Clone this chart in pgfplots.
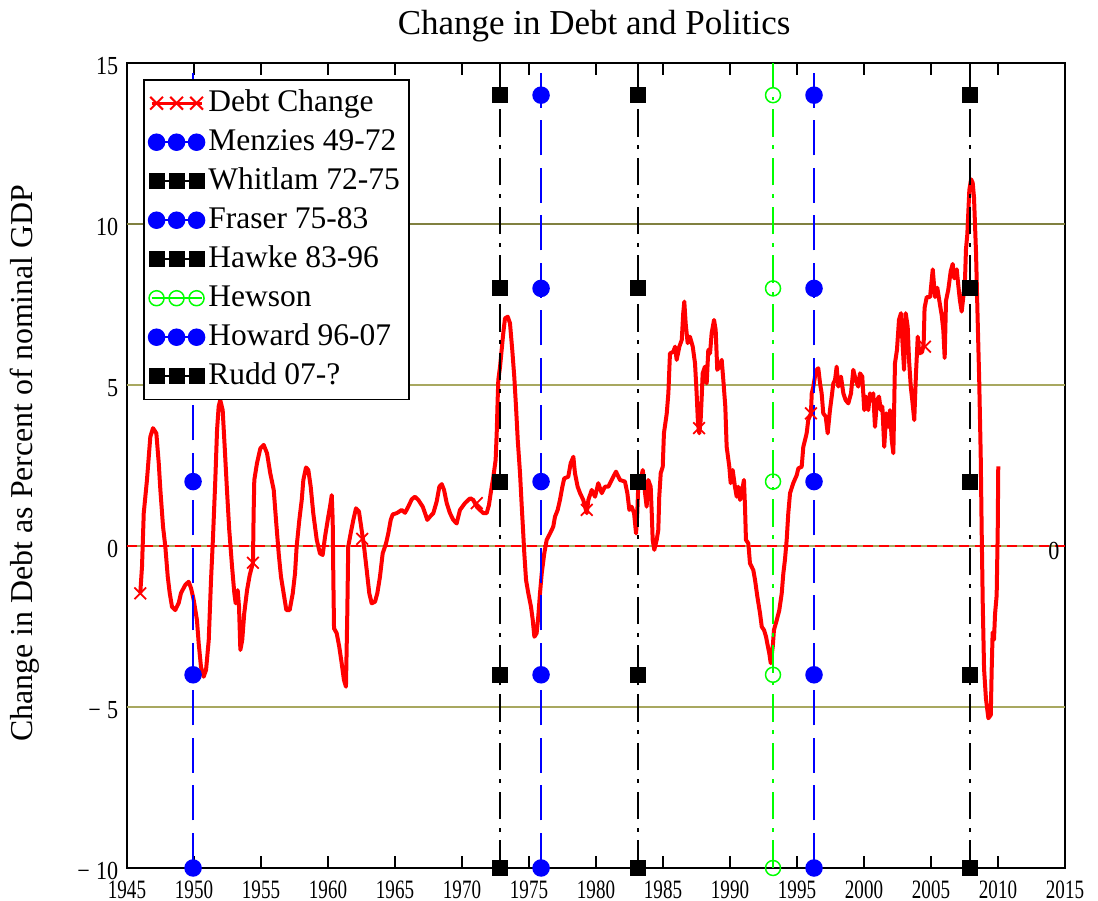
\documentclass[border=0pt]{standalone}
\usepackage{fontspec}
\setmainfont{Liberation Serif}
\newfontfamily\condfont[FakeStretch=0.72]{Liberation Serif}
\newfontfamily\ycondfont[FakeStretch=0.85]{Liberation Serif}
\usepackage{pgfplots}
\pgfplotsset{compat=1.18}
\usepackage{pgfplotstable}

\definecolor{gridolive}{RGB}{168,168,96}
\definecolor{gridten}{RGB}{128,128,64}
\definecolor{hewgreen}{RGB}{0,255,0}

\pgfplotstableread{
year val
1945.99 -1.47
1946.12 -0.64
1946.25 1.02
1946.49 2.05
1946.74 3.39
1946.94 3.66
1947.19 3.50
1947.37 2.57
1947.49 1.74
1947.69 0.60
1947.86 -0.02
1948.04 -0.95
1948.19 -1.47
1948.36 -1.89
1948.60 -1.99
1948.86 -1.77
1949.03 -1.46
1949.35 -1.21
1949.60 -1.11
1949.78 -1.31
1949.98 -1.68
1950.22 -2.30
1950.35 -3.02
1950.52 -3.75
1950.72 -4.06
1950.90 -3.85
1951.10 -2.92
1951.27 -1.06
1951.42 0.29
1951.59 2.05
1951.72 3.60
1951.84 4.33
1951.96 4.53
1952.14 4.22
1952.29 3.08
1952.46 1.74
1952.63 0.50
1952.84 -0.64
1953.01 -1.47
1953.11 -1.78
1953.26 -1.37
1953.36 -1.89
1953.46 -3.23
1953.60 -2.92
1953.75 -2.09
1953.96 -1.37
1954.16 -0.90
1954.40 -0.52
1954.45 1.02
1954.50 2.05
1954.70 2.57
1954.95 3.03
1955.20 3.14
1955.45 2.88
1955.69 2.26
1955.95 1.74
1956.14 0.70
1956.32 -0.23
1956.49 -0.95
1956.69 -1.47
1956.89 -1.99
1957.14 -1.99
1957.37 -1.47
1957.54 -0.85
1957.66 -0.02
1957.86 0.81
1958.04 1.43
1958.16 2.05
1958.36 2.44
1958.53 2.36
1958.71 1.84
1958.90 1.02
1959.16 0.19
1959.40 -0.23
1959.60 -0.28
1959.78 0.29
1960.02 0.91
1960.15 1.22
1960.28 1.58
1960.35 0.81
1960.40 -1.06
1960.45 -2.56
1960.65 -2.71
1960.84 -3.13
1961.02 -3.64
1961.19 -4.16
1961.34 -4.37
1961.44 -2.09
1961.51 -0.02
1961.69 0.39
1961.89 0.81
1962.09 1.17
1962.31 1.07
1962.51 0.50
1962.69 -0.02
1962.89 -0.75
1963.08 -1.47
1963.26 -1.78
1963.51 -1.73
1963.68 -1.47
1963.88 -0.95
1964.08 -0.23
1964.33 0.08
1964.50 0.39
1964.68 0.81
1964.83 0.98
1965.13 1.02
1965.32 1.07
1965.50 1.12
1965.75 1.03
1965.99 1.22
1966.25 1.45
1966.49 1.53
1966.74 1.43
1967.07 1.22
1967.24 1.02
1967.41 0.81
1967.61 0.91
1967.86 1.02
1968.11 1.38
1968.31 1.84
1968.49 1.92
1968.66 1.74
1968.86 1.33
1969.10 1.02
1969.35 0.81
1969.60 0.70
1969.85 1.12
1970.22 1.33
1970.60 1.48
1970.84 1.43
1971.10 1.22
1971.34 1.12
1971.59 1.02
1971.84 1.02
1972.01 1.27
1972.16 1.69
1972.34 2.15
1972.51 2.67
1972.59 3.50
1972.66 4.53
1972.71 5.16
1972.84 5.57
1972.96 6.09
1973.08 6.61
1973.21 7.07
1973.41 7.12
1973.58 6.92
1973.75 6.09
1973.90 5.26
1974.03 4.33
1974.16 3.29
1974.33 2.26
1974.46 1.22
1974.57 0.39
1974.65 -0.23
1974.78 -1.06
1974.95 -1.47
1975.15 -1.89
1975.28 -2.30
1975.40 -2.82
1975.57 -2.71
1975.69 -2.20
1975.82 -1.47
1975.95 -0.85
1976.14 -0.23
1976.32 0.19
1976.57 0.39
1976.81 0.60
1976.94 0.91
1977.14 1.12
1977.31 1.43
1977.49 1.84
1977.63 2.10
1977.93 2.15
1978.11 2.57
1978.31 2.77
1978.43 2.26
1978.63 1.84
1978.81 1.64
1979.05 1.43
1979.31 1.02
1979.43 1.43
1979.68 1.74
1979.93 1.53
1980.17 1.95
1980.43 1.64
1980.67 1.84
1980.92 1.84
1981.17 2.05
1981.49 2.31
1981.79 2.05
1982.16 2.00
1982.34 1.64
1982.49 1.12
1982.66 1.22
1982.84 1.02
1982.99 0.39
1983.08 1.02
1983.16 1.95
1983.34 2.05
1983.49 2.36
1983.66 1.64
1983.78 1.22
1983.90 2.05
1984.08 1.84
1984.16 1.02
1984.23 0.19
1984.35 -0.12
1984.53 0.19
1984.65 0.50
1984.72 1.53
1984.83 2.26
1984.98 2.46
1985.07 3.50
1985.28 4.12
1985.40 4.74
1985.47 5.47
1985.52 5.98
1985.77 6.03
1985.90 6.19
1986.02 5.78
1986.22 6.19
1986.40 6.40
1986.51 7.23
1986.59 7.59
1986.69 6.92
1986.84 6.30
1987.01 6.50
1987.22 6.19
1987.39 5.67
1987.51 4.74
1987.61 3.81
1987.71 3.50
1987.81 3.91
1987.89 4.64
1987.96 5.36
1988.13 5.57
1988.26 5.05
1988.38 6.09
1988.51 5.98
1988.63 6.61
1988.81 7.02
1988.93 6.71
1989.05 5.47
1989.20 5.57
1989.38 5.78
1989.50 5.16
1989.65 4.33
1989.75 3.08
1989.95 2.46
1990.05 1.95
1990.20 2.36
1990.37 1.84
1990.50 1.53
1990.62 1.84
1990.75 1.43
1990.87 1.64
1991.04 2.05
1991.12 1.22
1991.19 0.19
1991.37 0.08
1991.49 -0.54
1991.74 -0.75
1991.87 -1.06
1992.04 -1.57
1992.24 -2.09
1992.37 -2.51
1992.54 -2.61
1992.69 -2.82
1992.78 -3.02
1992.93 -3.33
1993.04 -3.64
1993.19 -3.13
1993.28 -2.61
1993.49 -2.30
1993.68 -1.99
1993.86 -1.47
1993.98 -0.85
1994.10 -0.43
1994.23 0.19
1994.35 1.02
1994.48 1.64
1994.72 1.95
1994.98 2.20
1995.10 2.41
1995.35 2.46
1995.47 3.08
1995.60 3.29
1995.72 3.50
1995.84 3.91
1996.04 4.12
1996.10 4.74
1996.22 4.95
1996.34 5.26
1996.47 5.47
1996.59 5.52
1996.72 5.05
1996.84 4.74
1996.96 4.12
1997.14 4.02
1997.29 3.50
1997.46 4.22
1997.59 4.64
1997.71 5.05
1997.84 5.16
1997.96 5.57
1998.08 4.95
1998.28 5.26
1998.46 4.74
1998.63 4.53
1998.83 4.43
1999.03 4.74
1999.20 5.47
1999.38 5.16
1999.57 4.95
1999.70 5.36
1999.87 5.26
2000.02 4.22
2000.15 4.64
2000.32 4.22
2000.45 4.74
2000.57 4.53
2000.69 4.74
2000.82 3.70
2000.97 4.53
2001.12 4.64
2001.25 4.22
2001.37 4.33
2001.51 3.08
2001.66 4.12
2001.81 3.70
2001.94 4.22
2002.07 3.29
2002.19 2.88
2002.31 5.67
2002.46 6.09
2002.61 7.02
2002.76 7.23
2002.86 6.40
2002.99 5.47
2003.11 7.23
2003.26 6.81
2003.36 5.78
2003.49 4.95
2003.60 4.53
2003.75 3.91
2003.88 5.36
2004.01 6.50
2004.13 5.98
2004.33 6.02
2004.45 6.25
2004.52 7.39
2004.68 7.73
2004.93 7.73
2005.13 8.59
2005.30 7.73
2005.47 8.02
2005.62 7.62
2005.80 7.16
2005.92 6.70
2006.02 5.84
2006.12 7.62
2006.29 7.96
2006.47 8.53
2006.62 8.76
2006.74 8.31
2006.92 8.59
2007.04 8.08
2007.16 7.62
2007.29 7.28
2007.41 7.73
2007.54 8.31
2007.61 9.22
2007.71 9.68
2007.86 11.05
2007.99 11.39
2008.11 11.28
2008.21 10.82
2008.36 9.11
2008.46 7.39
2008.60 5.10
2008.71 2.81
2008.78 0.53
2008.86 -1.76
2008.96 -3.82
2009.10 -4.74
2009.28 -5.35
2009.46 -5.25
2009.53 -3.82
2009.60 -2.68
2009.70 -2.91
2009.78 -2.11
2009.90 -1.53
2009.98 0.53
2010.02 2.47
}\debtdata

\begin{document}
\begin{tikzpicture}
\begin{axis}[
  at={(0,0)}, anchor=south west,
  scale only axis, width=375.2pt, height=322pt,
  xmin=1945, xmax=2015, ymin=-10, ymax=15,
  xtick={1945,1950,...,2015},
  ytick={-10,-5,0,5,10,15},
  yticklabels={−\hspace{2.5pt}10,−\hspace{2.5pt}5,0,5,10,15},
  /pgf/number format/assume math mode=true,
  /pgf/number format/1000 sep={},
  xticklabel style={font=\condfont\fontsize{10.6}{10.6}\selectfont, yshift=-1.6pt},
  yticklabel style={font=\ycondfont\fontsize{10.4}{10.4}\selectfont, yshift=-1.2pt},
  tick align=inside,
  xtick pos=both, xticklabel pos=lower,
  ytick pos=left,
  major tick length=4.8pt,
  xtick style={black, line width=0.6pt},
  ytick style={draw=none},
  axis line style={black, line width=1pt},
  title={Change in Debt and Politics},
  every axis title/.style={font=\fontsize{14}{16}\selectfont, at={(axis description cs:0.498,1)}, anchor=base, yshift=11.2pt},
  ylabel={Change in Debt as Percent of nominal GDP},
  every axis y label/.style={font=\fontsize{12.75}{15}\selectfont, at={(axis description cs:-0.1087,0.503)}, rotate=90, anchor=center},
  legend image code/.code={
    \draw[#1,solid] (-2pt,0pt) -- (18pt,0pt);
    \draw[#1,solid] plot coordinates {(0pt,0pt) (8pt,0pt) (16pt,0pt)};
  },
  legend style={at={(0.017,0.98)}, anchor=north west, draw=black, line width=0.7pt, fill=white,
    font=\fontsize{12.6}{15}\selectfont, cells={anchor=west},
    inner xsep=2pt, inner ysep=1.5pt,
    nodes={inner sep=1.6pt, text height=9.4pt, text depth=3pt}},
]
% horizontal reference lines
\addplot[gridten, line width=0.5pt, forget plot] coordinates {(1945,10) (2015,10)};
\addplot[gridolive, line width=0.6pt, forget plot] coordinates {(1945,5) (2015,5)};
\addplot[gridolive, line width=0.6pt, forget plot] coordinates {(1945,-5) (2015,-5)};
\addplot[gridolive, line width=0.6pt, forget plot] coordinates {(1945,0) (2015,0)};
\addplot[red, line width=0.5pt, dash pattern=on 4pt off 2.4pt, forget plot] coordinates {(1945,0) (2015,0)};

% debt change
\addplot[red, line width=1.6pt, line join=round, forget plot] table[x=year, y=val] {\debtdata};
\addplot[red, only marks, mark=x, mark size=3.3pt, mark options={line width=0.7pt}, forget plot]
  coordinates {(1945.99,-1.47) (1954.40,-0.52) (1962.55,0.22) (1971.10,1.33) (1979.31,1.12) (1987.69,3.66) (1996.04,4.12) (2004.55,6.19)};

\addlegendimage{red, line width=1.2pt, mark=x, mark size=3.6pt, mark options={solid, line width=0.8pt}}
\addlegendentry{Debt Change}

% politics
\addplot[blue, line width=0.8pt, dash pattern=on 14pt off 5pt, mark=*, mark size=3.1pt, mark options={solid, fill=blue}, mark indices={1,2,3,4,5}]
  coordinates {(1949.93,-10) (1949.93,-4) (1949.93,2) (1949.93,8) (1949.93,14) (1949.93,15)};
\addlegendentry{Menzies 49-72}
\addplot[black, line width=0.8pt, dash pattern=on 11pt off 3.5pt on 1.5pt off 3.5pt, mark=square*, mark size=2.8pt, mark options={solid, fill=black}, mark indices={1,2,3,4,5}]
  coordinates {(1972.84,-10) (1972.84,-4) (1972.84,2) (1972.84,8) (1972.84,14) (1972.84,15)};
\addlegendentry{Whitlam 72-75}
\addplot[blue, line width=0.8pt, dash pattern=on 14pt off 5pt, mark=*, mark size=3.1pt, mark options={solid, fill=blue}, mark indices={1,2,3,4,5}]
  coordinates {(1975.90,-10) (1975.90,-4) (1975.90,2) (1975.90,8) (1975.90,14) (1975.90,15)};
\addlegendentry{Fraser 75-83}
\addplot[black, line width=0.8pt, dash pattern=on 11pt off 3.5pt on 1.5pt off 3.5pt, mark=square*, mark size=2.8pt, mark options={solid, fill=black}, mark indices={1,2,3,4,5}]
  coordinates {(1983.13,-10) (1983.13,-4) (1983.13,2) (1983.13,8) (1983.13,14) (1983.13,15)};
\addlegendentry{Hawke 83-96}
\addplot[hewgreen, line width=0.8pt, dash pattern=on 11pt off 3.5pt on 1.5pt off 3.5pt, mark=o, mark size=3pt, mark options={solid, line width=0.6pt}, mark indices={1,2,3,4,5}]
  coordinates {(1993.21,-10) (1993.21,-4) (1993.21,2) (1993.21,8) (1993.21,14) (1993.21,15)};
\addlegendentry{Hewson}
\addplot[blue, line width=0.8pt, dash pattern=on 14pt off 5pt, mark=*, mark size=3.1pt, mark options={solid, fill=blue}, mark indices={1,2,3,4,5}]
  coordinates {(1996.27,-10) (1996.27,-4) (1996.27,2) (1996.27,8) (1996.27,14) (1996.27,15)};
\addlegendentry{Howard 96-07}
\addplot[black, line width=0.8pt, dash pattern=on 11pt off 3.5pt on 1.5pt off 3.5pt, mark=square*, mark size=2.8pt, mark options={solid, fill=black}, mark indices={1,2,3,4,5}]
  coordinates {(2007.91,-10) (2007.91,-4) (2007.91,2) (2007.91,8) (2007.91,14) (2007.91,15)};
\addlegendentry{Rudd 07-?}

\node[anchor=east, inner sep=0pt, font=\ycondfont\fontsize{10.4}{10.4}\selectfont] at (axis cs:2015,0) [xshift=-2pt, yshift=-1.8pt] {0};
\end{axis}
\pgfresetboundingbox
\path (-50.8pt,-13.2pt) rectangle (388.4pt,347.2pt);
\end{tikzpicture}
\end{document}
